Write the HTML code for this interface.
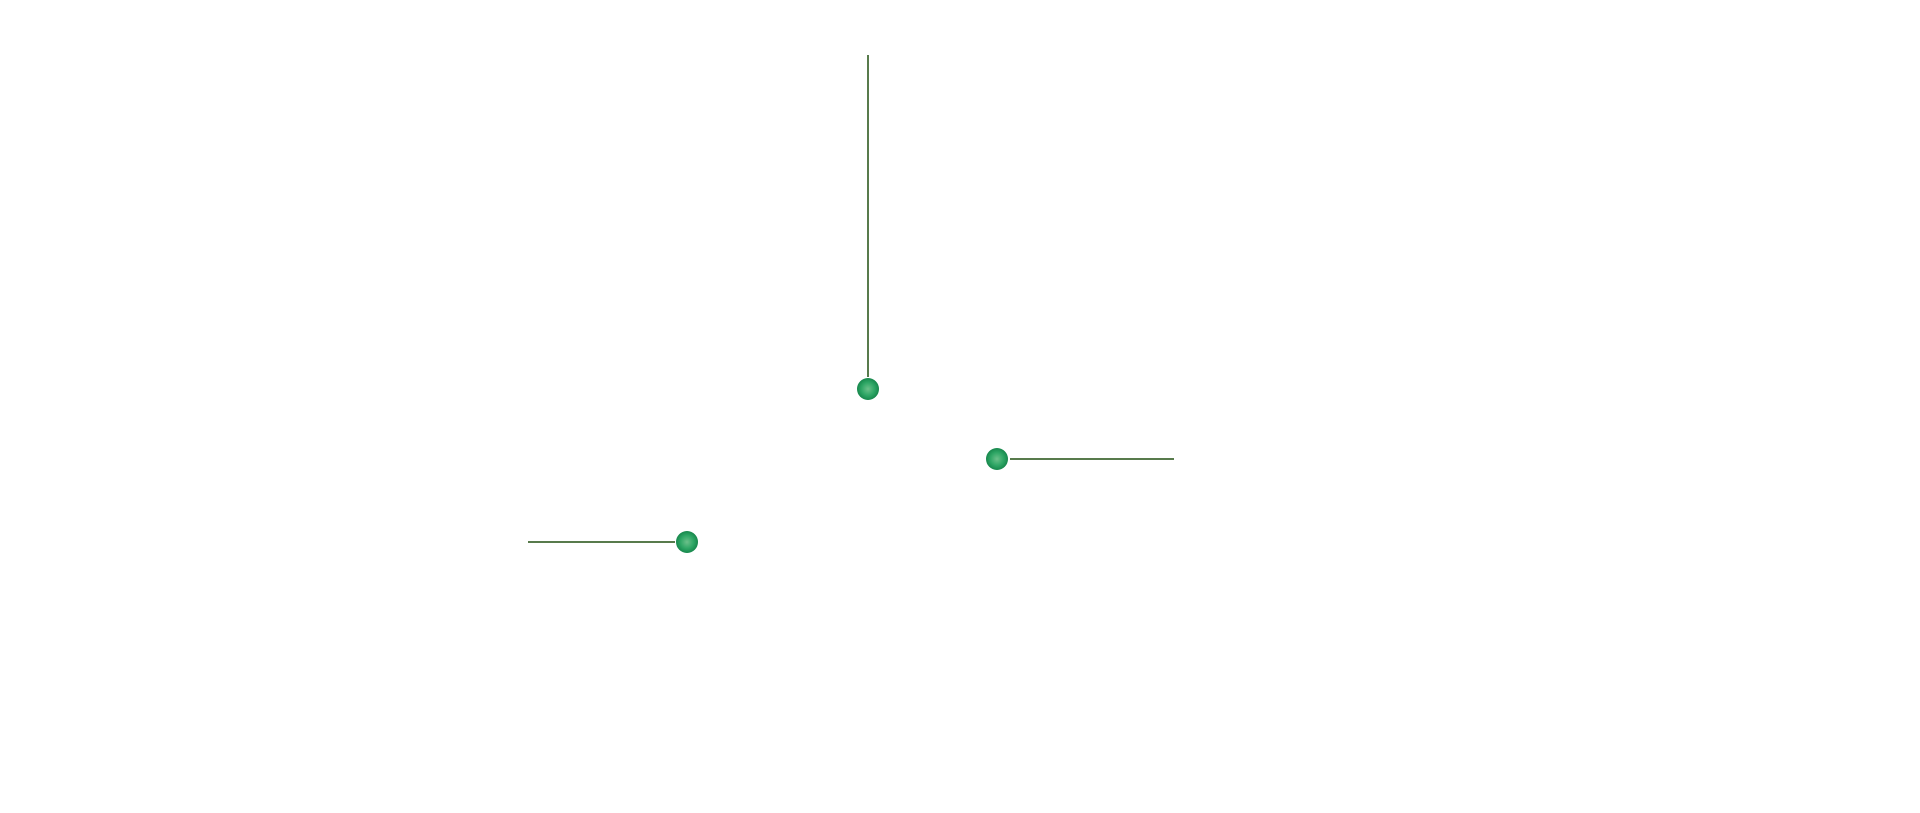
<!DOCTYPE html>
<html><head><meta charset="utf-8"><style>html,body{margin:0;padding:0;background:#fff;}svg{display:block}</style></head>
<body>
<svg width="1920" height="813" viewBox="0 0 1920 813" xmlns="http://www.w3.org/2000/svg">
<defs>
<radialGradient id="g" cx="50%" cy="50%" r="50%">
<stop offset="0" stop-color="#6cc08a"/>
<stop offset="0.6" stop-color="#2ea665"/>
<stop offset="1" stop-color="#17874c"/>
</radialGradient>
</defs>
<g stroke="#587b4c" stroke-width="2">
<line x1="868" y1="55" x2="868" y2="377"/>
<line x1="1010" y1="459" x2="1174" y2="459"/>
<line x1="528" y1="542" x2="675" y2="542"/>
</g>
<g fill="url(#g)">
<circle cx="868" cy="389" r="11"/>
<circle cx="997" cy="459" r="11"/>
<circle cx="687" cy="542" r="11"/>
</g>
</svg>
</body></html>
